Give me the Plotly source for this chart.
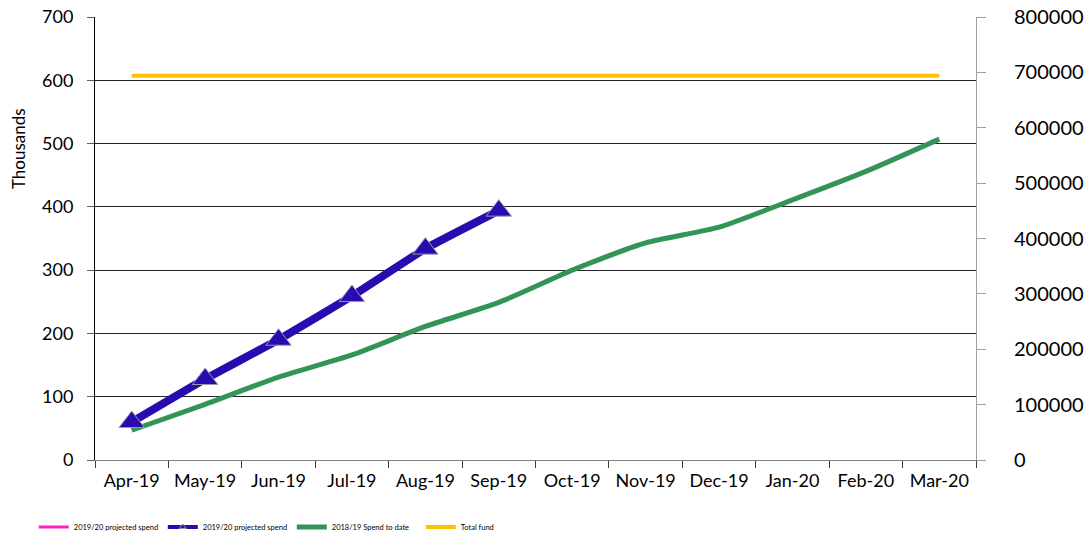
import plotly.graph_objects as go

months = ["Apr-19", "May-19", "Jun-19", "Jul-19", "Aug-19", "Sep-19",
          "Oct-19", "Nov-19", "Dec-19", "Jan-20", "Feb-20", "Mar-20"]

# values in thousands (left axis)
projected_2019_20 = [60, 128, 190, 259, 334, 394]
spend_2018_19 = [47, 88, 131, 166, 211, 249, 300, 343, 368, 411, 456, 507]
total_fund = [607] * 12

left_ticks = [0, 100, 200, 300, 400, 500, 600, 700]
right_ticks = [0, 100000, 200000, 300000, 400000, 500000, 600000, 700000, 800000]

FONT = "Lato"
BLUE = "#2A0BB0"

fig = go.Figure()

fig.add_trace(go.Scatter(
    x=months[:len(projected_2019_20)], y=projected_2019_20,
    name="2019/20 projected spend", mode="lines",
    line=dict(color="#FF1FC8", width=3, shape="spline", smoothing=0.3),
))
# legend entry for the blue series (small marker, like the reference)
fig.add_trace(go.Scatter(
    x=[None], y=[None],
    name="2019/20 projected spend", mode="lines+markers",
    line=dict(color=BLUE, width=4),
    marker=dict(symbol="triangle-up", size=6, color=BLUE,
                line=dict(color="#9A9AA8", width=1)),
))
fig.add_trace(go.Scatter(
    x=months, y=spend_2018_19,
    name="2018/19 Spend to date", mode="lines",
    line=dict(color="#339457", width=5, shape="spline", smoothing=0.6),
))
fig.add_trace(go.Scatter(
    x=months, y=total_fund,
    name="Total fund", mode="lines",
    line=dict(color="#FFC000", width=4),
))
fig.add_trace(go.Scatter(
    x=months[:len(projected_2019_20)], y=projected_2019_20,
    name="2019/20 projected spend", mode="lines+markers", showlegend=False,
    line=dict(color=BLUE, width=8, shape="spline", smoothing=0.3),
    marker=dict(symbol="triangle-up", size=22, color=BLUE,
                line=dict(color="#9A9AA8", width=1)),
))
# dummy trace for the secondary axis
fig.add_trace(go.Scatter(
    x=[months[0]], y=[0], yaxis="y2", mode="lines",
    line=dict(width=0), showlegend=False, hoverinfo="skip",
))

fig.update_layout(
    width=1090, height=538,
    margin=dict(l=95, r=114, t=17, b=78),
    paper_bgcolor="white", plot_bgcolor="white",
    font=dict(family=FONT, color="black"),
    showlegend=True,
    legend=dict(
        orientation="h", xref="container", yref="container",
        x=0.031, y=0.0205, xanchor="left", yanchor="middle",
        font=dict(size=7.5, family=FONT, color="black"),
        entrywidth=84, entrywidthmode="pixels",
        bgcolor="rgba(0,0,0,0)", tracegroupgap=0,
    ),
    xaxis=dict(
        type="category", categoryorder="array", categoryarray=months,
        range=[-0.5, 11.5], tickson="boundaries",
        ticks="outside", ticklen=7, tickcolor="#404040",
        showline=True, linecolor="#808080", linewidth=1,
        showgrid=False, zeroline=False, automargin=False,
        tickfont=dict(size=18, family=FONT), ticklabelstandoff=4,
    ),
    yaxis=dict(
        range=[0, 700], tickvals=left_ticks,
        ticks="outside", ticklen=7, tickcolor="#606060",
        showline=True, linecolor="black", linewidth=1,
        showgrid=True, gridcolor="#222222", gridwidth=1,
        zeroline=False, automargin=False,
        tickfont=dict(size=18, family=FONT), ticklabelstandoff=10,
    ),
    yaxis2=dict(
        overlaying="y", side="right", range=[0, 800000],
        tickvals=right_ticks, ticktext=[str(v) for v in right_ticks],
        ticks="outside", ticklen=9, tickcolor="#A0A0A0",
        showline=True, linecolor="#A0A0A0", linewidth=1,
        showgrid=False, zeroline=False, automargin=False,
        tickfont=dict(size=20, family=FONT), ticklabelstandoff=24,
    ),
    annotations=[dict(
        text="Thousands", xref="paper", yref="paper",
        x=-0.0875, y=0.704, textangle=-90, showarrow=False,
        xanchor="center", yanchor="middle",
        font=dict(size=17, family=FONT, color="black"),
    )],
)

fig.write_html(
    "out.html",
    config={"displayModeBar": False},
    post_script="document.body.style.margin='0';document.body.style.overflow='hidden';",
)
